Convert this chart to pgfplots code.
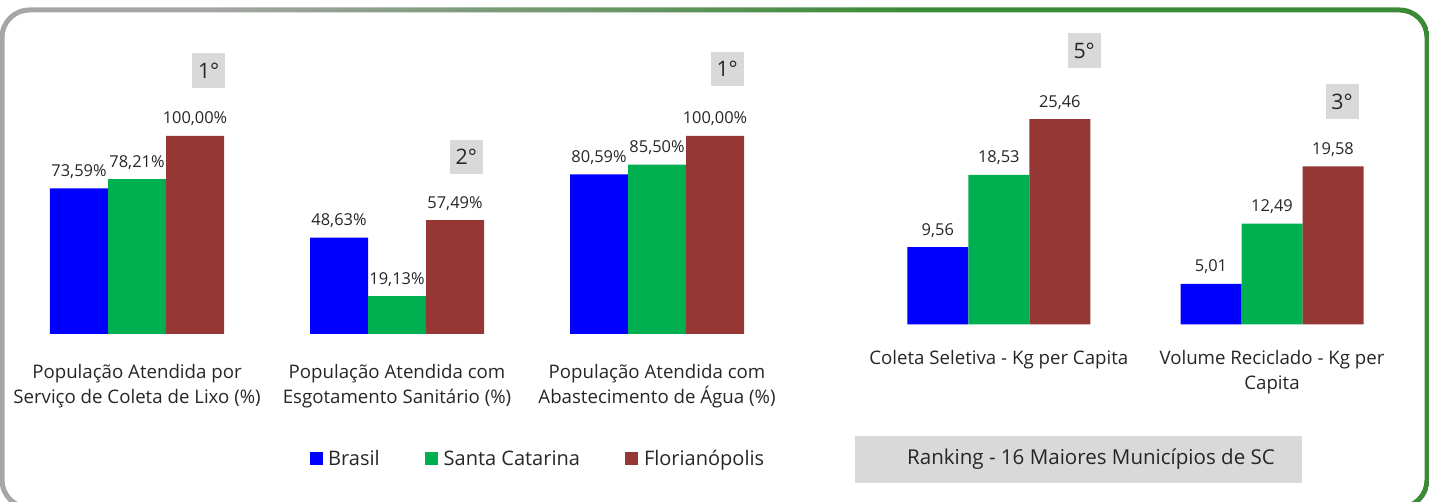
\documentclass[border=0pt]{standalone}
\usepackage{pgfplots}
\pgfplotsset{compat=1.18}
\usepackage{fontspec}
\setmainfont{Open Sans}
\definecolor{cBR}{HTML}{0000FF}
\definecolor{cSC}{HTML}{00B050}
\definecolor{cFL}{HTML}{953735}
\definecolor{rankgray}{HTML}{D9D9D9}
\definecolor{framegray}{HTML}{A6A6A6}
\definecolor{framegreen}{HTML}{3B8A35}
\pgfdeclarehorizontalshading{frameshade}{100bp}{color(0bp)=(framegray); color(32bp)=(framegray); color(57bp)=(framegreen); color(100bp)=(framegreen)}
\newcommand{\lblfont}{\fontsize{14}{18.75}\selectfont}
\newcommand{\legfont}{\fontsize{15}{18}\selectfont}
\newcommand{\valfont}{\fontsize{12.3}{14}\selectfont}
\pgfplotsset{
  sqlegend/.style={legend image code/.code={\fill[#1] (0pt,-4.875pt) rectangle (9.75pt,4.875pt);}},
  mybars/.style={
    ybar=0pt,
    scale only axis,
    axis line style={draw=none},
    major tick length=0pt,
    ytick=\empty,
    ymin=0,
    enlarge x limits=false,
    clip=false,
    nodes near coords={\pgfplotspointmeta},
    point meta=explicit symbolic,
    nodes near coords style={font=\valfont, text=black!85, anchor=base, yshift=9pt},
    xticklabel style={align=center, font=\lblfont, text=black!85, anchor=north},
  },
}
\begin{document}
\begin{tikzpicture}
\begin{scope}[x=0.75pt,y=0.75pt]
\useasboundingbox (0,0) rectangle (1429,502);
\begin{scope}
\clip (0,0) rectangle (1429,502);
\shade[shading=frameshade, even odd rule]
  [rounded corners=22.5pt] (-0.5,-8) rectangle (1429.5,494.5)
  [rounded corners=18.75pt] (4.5,-3) rectangle (1424.5,489.5);
\end{scope}
\end{scope}
% left axis: percentages
\begin{axis}[mybars,
  at={(5.25pt,126pt)}, anchor=south west,
  width=585pt, height=148.5pt,
  xmin=-0.5, xmax=2.5, ymax=100,
  bar width=43.5pt,
  xtick={0,1,2},
  xticklabels={{População Atendida por\\Serviço de Coleta de Lixo (\%)},{População Atendida com\\Esgotamento Sanitário (\%)},{População Atendida com\\Abastecimento de Água (\%)}},
  xticklabel style={yshift=-19pt},
  legend columns=3,
  legend style={at={(rel axis cs:0.681,-0.631)}, anchor=center, draw=none, fill=none,
    font=\legfont, text=black!85,
    /tikz/every odd column/.append style={column sep=2.25pt},
    /tikz/every even column/.append style={column sep=32pt}},
  sqlegend,
]
\addplot[fill=cBR, draw=none] coordinates {(0,73.59) [73,59\%] (1,48.63) [48,63\%] (2,80.59) [80,59\%]};
\addplot[fill=cSC, draw=none] coordinates {(0,78.21) [78,21\%] (1,19.13) [19,13\%] (2,85.50) [85,50\%]};
\addplot[fill=cFL, draw=none] coordinates {(0,100.00) [100,00\%] (1,57.49) [57,49\%] (2,100.00) [100,00\%]};
\legend{Brasil, Santa Catarina, Florianópolis}
\end{axis}
% right axis: kg per capita
\begin{axis}[mybars,
  at={(646.65pt,133.275pt)}, anchor=south west,
  width=409.8pt, height=181.4pt,
  xmin=-0.5, xmax=1.5, ymax=30,
  bar width=45.75pt,
  xtick={0,1},
  xticklabels={{Coleta Seletiva - Kg per Capita},{Volume Reciclado - Kg per\\Capita}},
  xticklabel style={yshift=-16pt},
]
\addplot[fill=cBR, draw=none] coordinates {(0,9.56) [9,56] (1,5.01) [5,01]};
\addplot[fill=cSC, draw=none] coordinates {(0,18.53) [18,53] (1,12.49) [12,49]};
\addplot[fill=cFL, draw=none] coordinates {(0,25.46) [25,46] (1,19.58) [19,58]};
\end{axis}
% ranking boxes
\begin{scope}[x=0.75pt,y=0.75pt]
\tikzset{rk/.style={fill=rankgray, minimum width=24.75pt, minimum height=25.9pt, inner sep=0pt, font=\fontsize{16}{18}\selectfont, text=black!85}}
\node[rk] at (208.7,431.5) {1°};
\node[rk] at (466.3,344.8) {2°};
\node[rk] at (727.2,432.8) {1°};
\node[rk] at (1084.2,451.5) {5°};
\node[rk] at (1342,400.5) {3°};
\fill[rankgray] (855,19) rectangle (1302,66);
\node[font=\fontsize{15.4}{18}\selectfont, text=black!85] at (1091,42.5) {Ranking - 16 Maiores Municípios de SC};
\end{scope}
\end{tikzpicture}
\end{document}
